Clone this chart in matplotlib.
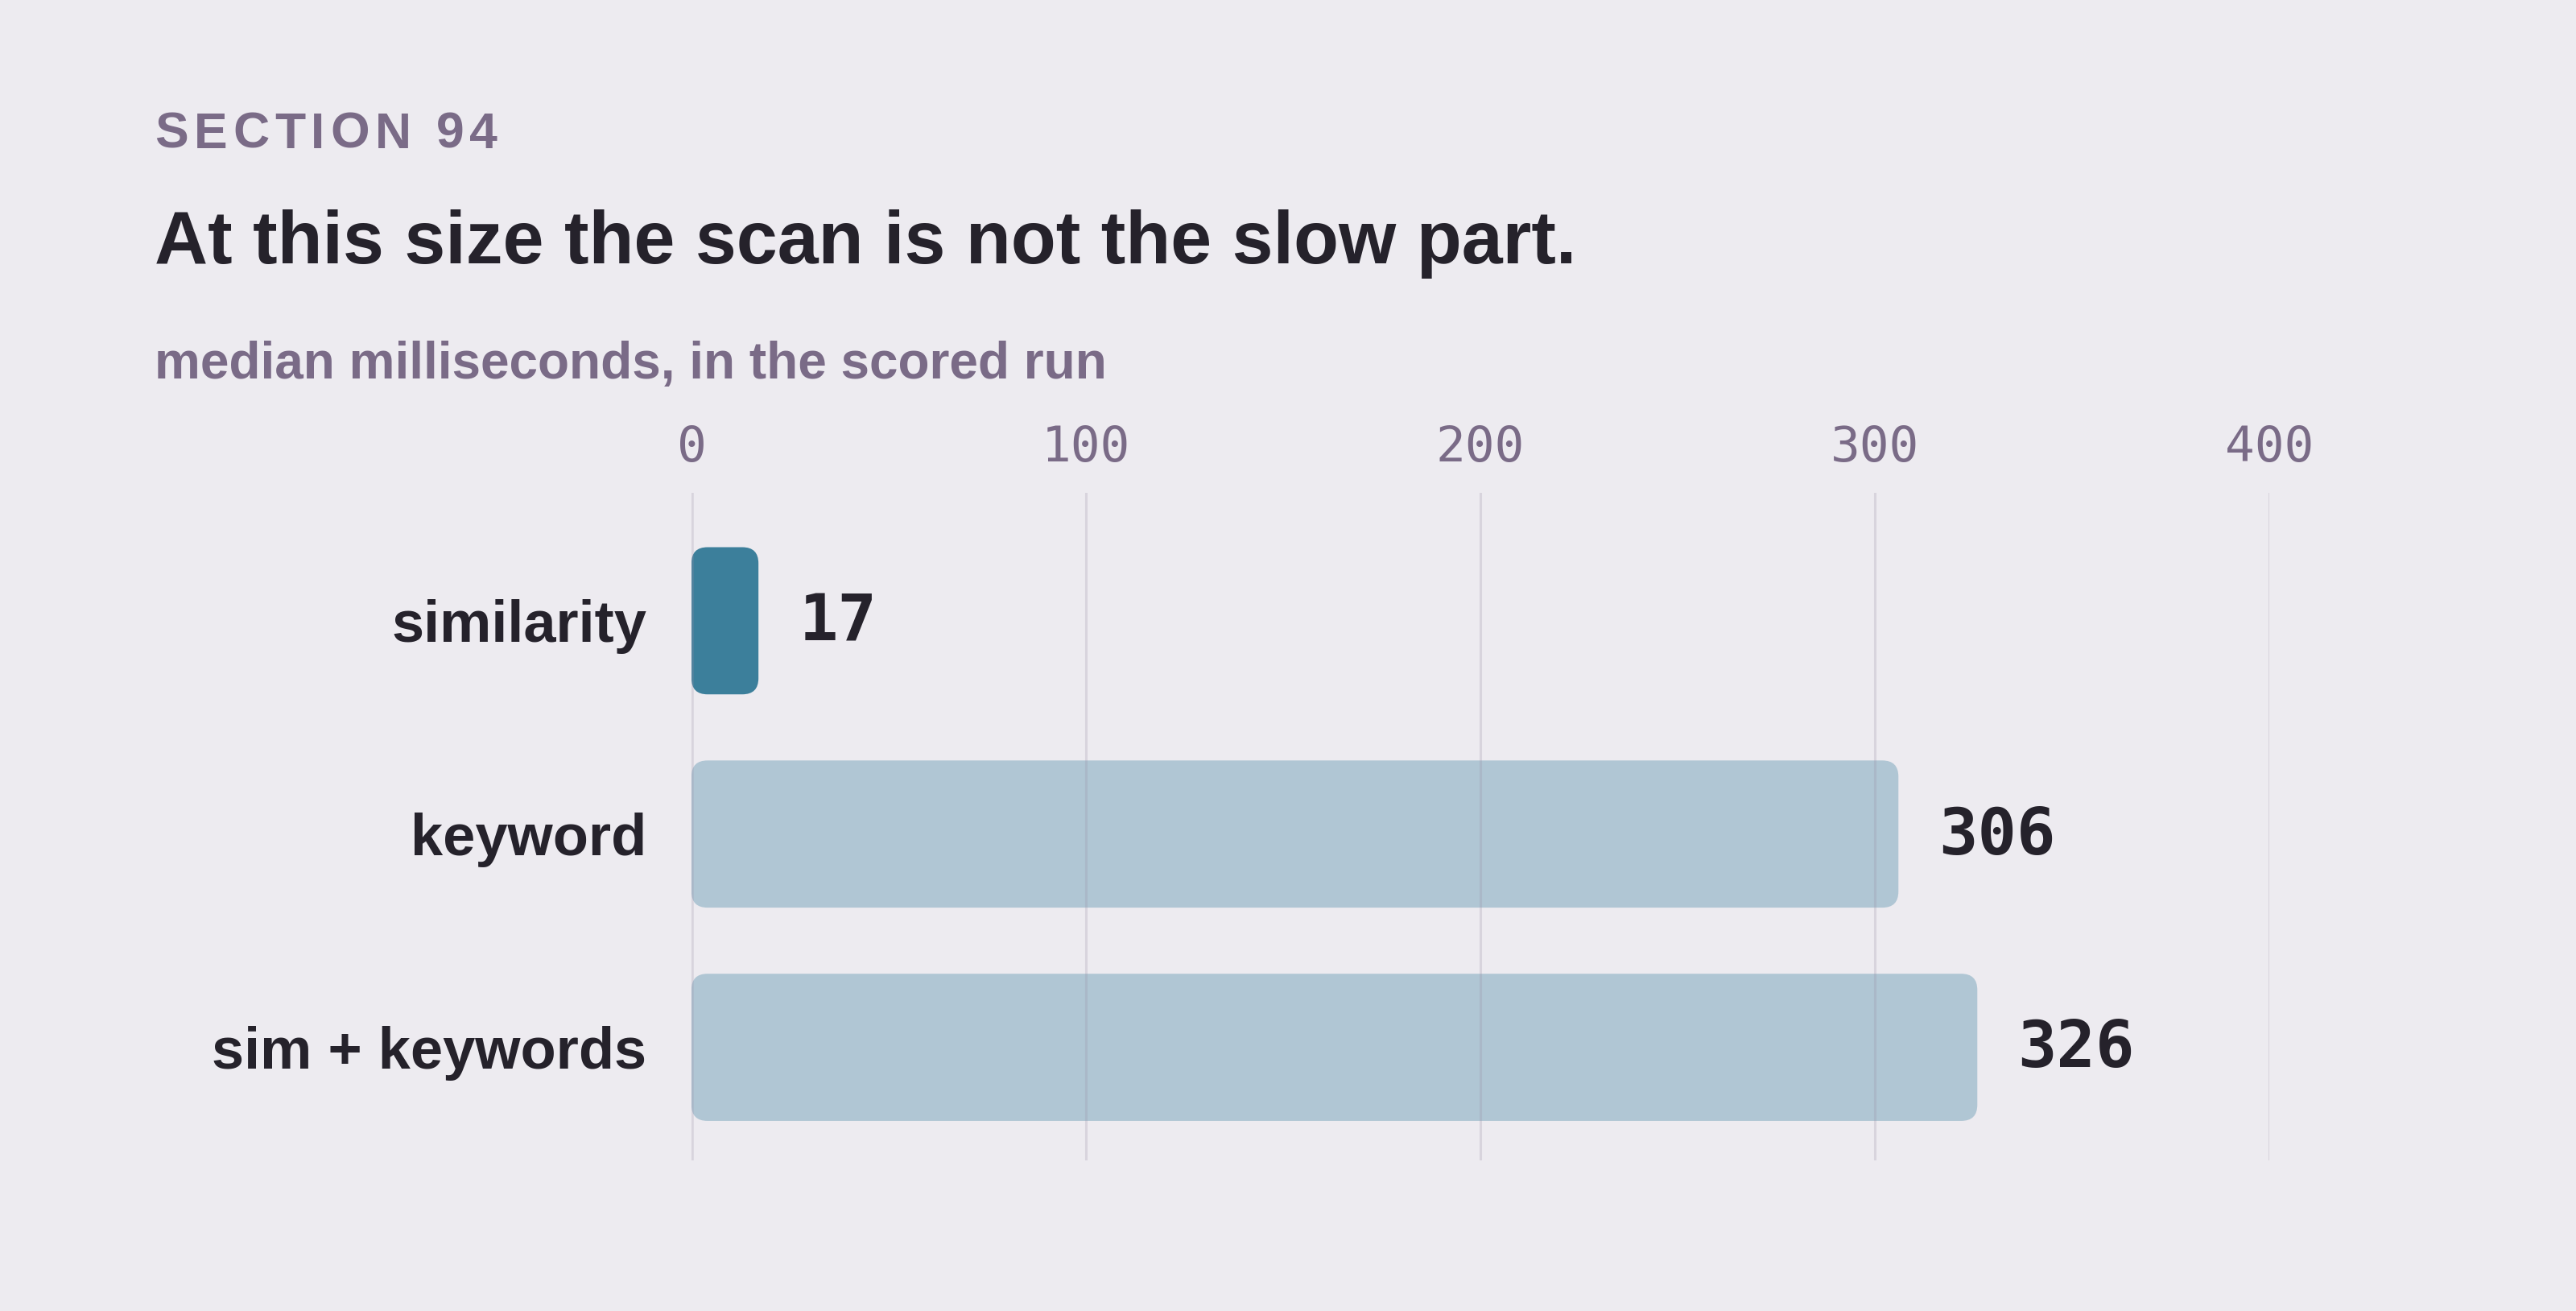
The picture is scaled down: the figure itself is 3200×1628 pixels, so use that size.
import matplotlib
matplotlib.use("Agg")
import matplotlib.pyplot as plt
from matplotlib.patches import FancyBboxPatch

categories = ["similarity", "keyword", "sim + keywords"]
values = [17, 306, 326]
ticks = [0, 100, 200, 300, 400]

kicker = "SECTION 94"
title = "At this size the scan is not the slow part."
subtitle = "median milliseconds, in the scored run"

BG = "#edebf0"
INK = "#25222b"
MUTED = "#7a6b87"
DARK = "#3c7f9b"
LIGHT = "#b0c6d4"

plt.rcParams["font.family"] = ["Liberation Sans", "DejaVu Sans"]

fig = plt.figure(figsize=(16, 8.14), dpi=200, facecolor=BG)
ax = fig.add_axes([0.2684, 0.1149, 0.6125, 0.5092])
ax.set_facecolor(BG)
ax.set_xlim(0, 400)
ax.set_ylim(2.53, -0.6)

# pixels per data unit, to get round corners that look circular
fig.canvas.draw()
p0 = ax.transData.transform((0, 0))
p1 = ax.transData.transform((1, 1))
px_x = abs(p1[0] - p0[0])
px_y = abs(p1[1] - p0[1])
radius_px = 20
rx = radius_px / px_x
aspect = (radius_px / px_y) / rx

bar_h = 0.69
for i, (cat, v) in enumerate(zip(categories, values)):
    color = DARK if i == 0 else LIGHT
    box = FancyBboxPatch((0, i - bar_h / 2), v, bar_h,
                         boxstyle=f"round,pad=0,rounding_size={rx}",
                         mutation_aspect=aspect,
                         facecolor=color, edgecolor="none", zorder=2)
    ax.add_patch(box)
    ax.annotate(str(v), (v, i), xytext=(18, -1), textcoords="offset points",
                ha="left", va="center", fontsize=29, fontweight="bold",
                family="DejaVu Sans Mono", color=INK)

for t in ticks:
    ax.axvline(t, color="#9a90a8", alpha=0.25, lw=1.1 if t else 2.0, zorder=3)

ax.set_yticks(range(len(categories)))
ax.set_yticklabels(categories, fontsize=26, fontweight="bold", color=INK)
ax.set_xticks(ticks)
ax.set_xticklabels([str(t) for t in ticks], family="DejaVu Sans Mono",
                   fontsize=22, color=MUTED)
ax.xaxis.tick_top()
ax.tick_params(axis="x", length=0, pad=9.5)
ax.tick_params(axis="y", length=0, pad=20)
for s in ax.spines.values():
    s.set_visible(False)

# kicker with letter spacing
renderer = fig.canvas.get_renderer()
x = 0.06
for ch in kicker:
    t = fig.text(x, 1 - 184 / 1628, ch, fontsize=22.5, fontweight="bold",
                 color=MUTED, va="baseline", ha="left")
    w = t.get_window_extent(renderer).width
    if ch == " ":
        w = 0.278 * 22.5 * 200 / 72
    x += (w + 6.8) / fig.bbox.width

fig.text(0.06, 1 - 327 / 1628, title, fontsize=33, fontweight="bold",
         color=INK, va="baseline", ha="left")
fig.text(0.06, 1 - 470 / 1628, subtitle, fontsize=23, fontweight="bold",
         color=MUTED, va="baseline", ha="left")

fig.savefig("out.png", dpi=200, facecolor=BG)
